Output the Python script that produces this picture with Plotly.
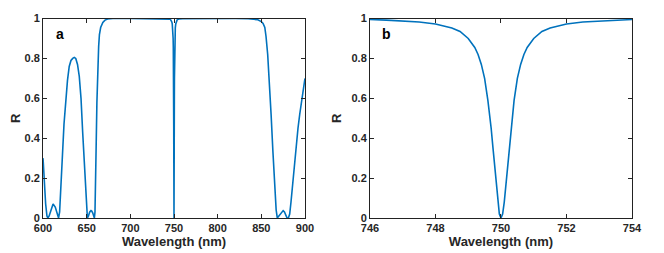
import plotly.graph_objects as go

# Reflectance spectrum (wavelength in nm, R)
wavelength = [600, 601.5, 603, 604.5, 605.5, 607, 609, 611.5, 614, 616.5, 617.8, 619, 620.5,
              622.3, 624, 626, 628, 630, 632, 634, 635.8, 637.5, 639.5, 641.5, 643.5, 645.4,
              647.2, 649, 650, 650.8, 652, 653.5, 655, 655.8, 657, 658, 658.8, 659.5, 660.2,
              660.8, 661.7, 662.7, 663.7, 664.6, 666, 668.5, 671, 674, 680, 700, 730, 740,
              744, 745, 746, 746.5, 747, 747.5, 748, 748.5, 748.75, 749, 749.2, 749.3, 749.4,
              749.5, 749.6, 749.65, 749.7, 749.75, 749.8, 749.85, 749.9, 749.95, 750,
              750.05, 750.1, 750.15, 750.2, 750.25, 750.3, 750.35, 750.4, 750.5, 750.6,
              750.7, 750.8, 751, 751.25, 751.5, 752, 752.5, 753, 753.5, 754, 755, 756,
              760, 780, 800, 820, 835, 842, 846, 850, 852, 854, 855.4,
              857.3, 859.3, 861.2, 863.2, 865, 867, 868.3, 870, 872, 874, 875, 876.5,
              878, 879.5, 881, 882.5, 884, 886, 888, 890, 892, 894, 896, 898, 900]
reflectance = [0.30, 0.17, 0.07, 0.01, 0.0, 0.01, 0.04, 0.07, 0.055, 0.02, 0.0, 0.03, 0.14,
               0.32, 0.47, 0.59, 0.69, 0.76, 0.79, 0.80, 0.805, 0.80, 0.77, 0.71, 0.60, 0.43,
               0.26, 0.09, 0.03, 0.0, 0.01, 0.03, 0.037, 0.035, 0.025, 0.01, 0.0, 0.03, 0.15,
               0.35, 0.58, 0.76, 0.86, 0.92, 0.955, 0.98, 0.992, 0.998, 1.0, 1.0, 1.0, 0.999,
               0.998, 0.997, 0.995, 0.992, 0.988, 0.983, 0.973, 0.953, 0.935, 0.90, 0.855,
               0.82, 0.77, 0.70, 0.59, 0.53, 0.45, 0.36, 0.27, 0.17, 0.08, 0.02, 0.0,
               0.02, 0.08, 0.17, 0.27, 0.36, 0.45, 0.53, 0.59, 0.70, 0.77,
               0.82, 0.855, 0.90, 0.935, 0.953, 0.973, 0.983, 0.988, 0.992, 0.995, 0.997, 0.998,
               0.999, 1.0, 1.0, 1.0, 0.999, 0.997, 0.994, 0.985, 0.975, 0.955, 0.91,
               0.82, 0.68, 0.52, 0.34, 0.17, 0.04, 0.0, 0.01, 0.025, 0.035, 0.037, 0.03,
               0.015, 0.0, 0.0, 0.02, 0.08, 0.18, 0.28, 0.37, 0.45, 0.52, 0.59, 0.65, 0.70]

xticks_a = [600, 650, 700, 750, 800, 850, 900]
xticks_b = [746, 748, 750, 752, 754]
yticks = [0, 0.2, 0.4, 0.6, 0.8, 1]
ytick_labels = ["0", "0.2", "0.4", "0.6", "0.8", "1"]

line_color = "#0072BD"
text_color = "#262626"
font_family = "Liberation Sans, Arial, sans-serif"

fig = go.Figure()
fig.add_trace(go.Scatter(x=wavelength, y=reflectance, mode="lines",
                         line=dict(color=line_color, width=1.6), xaxis="x", yaxis="y",
                         showlegend=False))
fig.add_trace(go.Scatter(x=wavelength, y=reflectance, mode="lines",
                         line=dict(color=line_color, width=1.6), xaxis="x2", yaxis="y2",
                         showlegend=False))

common_axis = dict(showgrid=False, zeroline=False, showline=True, linecolor="#222222",
                   linewidth=1, mirror="allticks", ticks="inside", ticklen=4,
                   tickcolor="#262626", tickwidth=1, automargin=False,
                   tickfont=dict(family=font_family, size=11, color=text_color, weight="bold"))
title_font = dict(family=font_family, size=13, color=text_color, weight="bold")

# page body has an 8px default margin, so the figure is a bit smaller than the window
ydom = [0.1429, 0.957]
fig.update_layout(
    width=656, height=245,
    margin=dict(l=0, r=0, t=0, b=0, autoexpand=False),
    paper_bgcolor="white", plot_bgcolor="white",
    xaxis=dict(domain=[0.0534, 0.4527], range=[600, 900], tickvals=xticks_a,
               title=dict(text="Wavelength (nm)", font=title_font, standoff=1),
               anchor="y", **common_axis),
    yaxis=dict(domain=ydom, range=[0, 1], tickvals=yticks, ticktext=ytick_labels,
               title=dict(text="R", font=title_font, standoff=6),
               anchor="x", **common_axis),
    xaxis2=dict(domain=[0.5518, 0.9512], range=[746, 754], tickvals=xticks_b,
                title=dict(text="Wavelength (nm)", font=title_font, standoff=1),
                anchor="y2", **common_axis),
    yaxis2=dict(domain=ydom, range=[0, 1], tickvals=yticks, ticktext=ytick_labels,
                title=dict(text="R", font=title_font, standoff=6),
                anchor="x2", **common_axis),
    annotations=[
        dict(text="a", x=0.04, y=0.975, xref="x domain", yref="y domain", xanchor="left",
             yanchor="top", showarrow=False,
             font=dict(family=font_family, size=14, color="black", weight="bold")),
        dict(text="b", x=0.04, y=0.975, xref="x2 domain", yref="y2 domain", xanchor="left",
             yanchor="top", showarrow=False,
             font=dict(family=font_family, size=14, color="black", weight="bold")),
    ],
)

fig.write_html("out.html")
